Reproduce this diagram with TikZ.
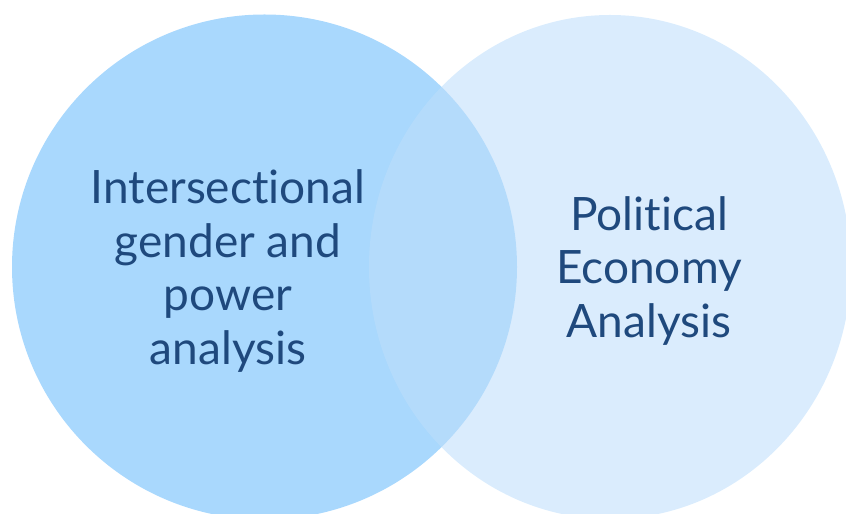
\documentclass[tikz,border=0pt]{standalone}
\usepackage{fontspec}
\setmainfont{Lato}[Ligatures={NoCommon}]
\usepackage{xcolor}
\usetikzlibrary{shapes.geometric}

\definecolor{gpblue}{RGB}{169,216,253}
\definecolor{peblue}{RGB}{190,222,251}
\definecolor{textblue}{RGB}{31,73,125}

\begin{document}
\begin{tikzpicture}[x=1pt, y=1pt]

\tikzstyle{gpcircle} = [circle, minimum size=505pt, inner sep=0pt, fill=gpblue]
\tikzstyle{pecircle} = [ellipse, minimum width=482pt, minimum height=504pt, inner sep=0pt, fill=peblue, fill opacity=0.57]%, draw=black]
\tikzstyle{vtext} = [text=textblue, align=center, inner sep=0pt, font=\fontsize{46}{53.5}\selectfont]

\useasboundingbox (0,0) rectangle (846,514);
\clip (0,0) rectangle (846,514);

\node (gp) [gpcircle] at (264.5,247) {};
\node (pe) [pecircle] at (610,247) {};

\node (gptext) [vtext] at (228,243) {Intersectional\\gender and\\power\\analysis};
\node (petext) [vtext] at (649,243) {Political\\Economy\\Analysis};

\end{tikzpicture}
\end{document}
